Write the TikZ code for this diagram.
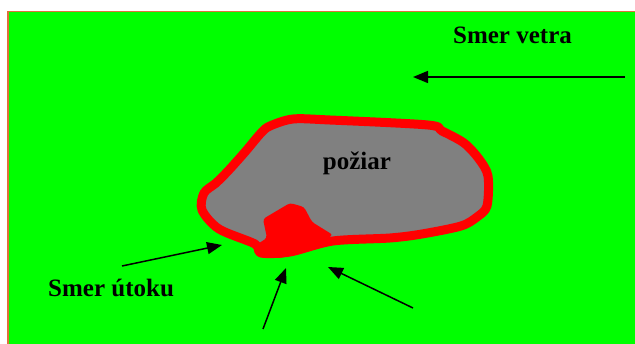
\documentclass[tikz,border=0pt]{standalone}
\usepackage{fontspec}
\setmainfont{Liberation Serif}
\usetikzlibrary{arrows.meta}
\definecolor{bggreen}{HTML}{00FF00}
\definecolor{firegray}{HTML}{808080}
\definecolor{firered}{HTML}{FF0000}
\definecolor{frameorange}{HTML}{E0703A}
\tikzset{
  lbl/.style={font=\fontsize{25}{28}\selectfont\bfseries, inner sep=0pt, text=black},
  arr/.style={line width=1.5pt, -{Triangle[length=15pt,width=12pt]}},
}
\begin{document}
\begin{tikzpicture}[x=1pt,y=-1pt]
\useasboundingbox (0,0) rectangle (635,344);
\fill[white] (0,0) rectangle (635,344);
\fill[bggreen] (8,11.5) rectangle (636,345);
\draw[frameorange, line width=1.5pt] (8,345) -- (8,11.5) -- (636,11.5);
% fire area
\draw[firered, fill=firegray, line width=9pt, line join=round]
  plot[smooth cycle, tension=0.5] coordinates {
  (261,133) (270,126) (293,119) (330,120) (428,125) (442,131) (464,143)
  (479,159) (488,176) (487,206) (477,217) (461,226) (422,234) (390,238)
  (333,241) (290,252) (261,253) (255,244) (219,229) (202,210) (204,193)
  (216,183) (228,171) (245,152)};
\fill[firered, rounded corners=3pt] (263,219) -- (290,203) -- (304,207)
  -- (312,222) -- (333,235) -- (305,252) -- (280,258) -- (258,257)
  -- (253,247) -- (267,238) -- cycle;
% labels
\node[lbl] (fire) at (357,163) {požiar};
\node[lbl, anchor=base] (wind) at (512.5,44) {Smer vetra};
\node[lbl, anchor=base west] (attack) at (48,297) {Smer útoku};
% arrows
\coordinate (w1) at (625,77);
\coordinate (w2) at (413,77);
\coordinate (a1s) at (122,266);
\coordinate (a1e) at (222,245);
\coordinate (a2s) at (263,329);
\coordinate (a2e) at (286,268);
\coordinate (a3s) at (413,308);
\coordinate (a3e) at (328,267);
\draw[arr] (w1) -- (w2);
\draw[arr] (a1s) -- (a1e);
\draw[arr] (a2s) -- (a2e);
\draw[arr] (a3s) -- (a3e);
\end{tikzpicture}
\end{document}
